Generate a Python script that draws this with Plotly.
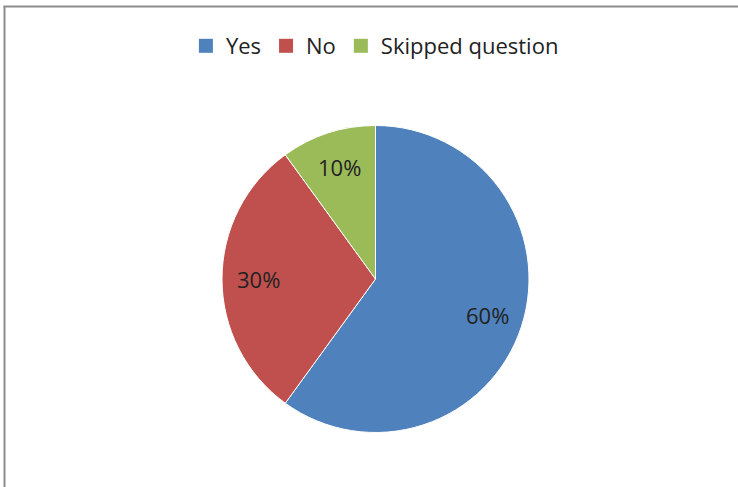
import math
import plotly.graph_objects as go

labels = ["Yes", "No", "Skipped question"]
values = [60, 30, 10]
colors = ["#4F81BD", "#C0504D", "#9BBB59"]

W, H = 738, 487
FONT = "Open Sans, Noto Sans, sans-serif"

# pie geometry (pixels)
CX, CY, R = 375.5, 279.0, 153.5

fig = go.Figure()
fig.add_trace(go.Pie(
    labels=labels,
    values=values,
    sort=False,
    direction="clockwise",
    rotation=0,
    marker=dict(colors=colors, line=dict(color="white", width=1)),
    textinfo="none",
    showlegend=False,
    domain=dict(x=[(CX - R) / W, (CX + R) / W],
                y=[(H - CY - R) / H, (H - CY + R) / H]),
    hoverinfo="label+percent",
))

# legend entries with larger square symbols
for lab, col in zip(labels, colors):
    fig.add_trace(go.Scatter(
        x=[None], y=[None], mode="markers", name=lab,
        marker=dict(symbol="square", size=14, color=col),
        hoverinfo="skip",
    ))

# percentage labels placed at mid-angle of each slice
total = sum(values)
annotations = []
cum = 0
for v in values:
    mid = (cum + v / 2) / total * 2 * math.pi
    cum += v
    px = CX + 0.765 * R * math.sin(mid)
    py = CY - 0.765 * R * math.cos(mid)
    annotations.append(dict(
        x=px / W, y=1 - py / H, xref="paper", yref="paper",
        text=f"{v / total * 100:.0f}%", showarrow=False,
        xanchor="center", yanchor="middle",
        font=dict(family=FONT, size=22, color="#222222"),
    ))

fig.update_layout(
    width=W, height=H,
    margin=dict(l=0, r=0, t=0, b=0),
    paper_bgcolor="white",
    plot_bgcolor="white",
    font=dict(family=FONT, color="#222222"),
    xaxis=dict(visible=False),
    yaxis=dict(visible=False),
    showlegend=True,
    legend=dict(
        orientation="h",
        x=0.508, xanchor="center",
        y=1 - 25 / H, yanchor="top",
        font=dict(family=FONT, size=22, color="#222222"),
        itemwidth=30,
        traceorder="normal",
        bgcolor="rgba(0,0,0,0)",
    ),
    annotations=annotations,
    shapes=[
        dict(type="line", xref="paper", yref="paper",
             x0=4.5 / W, x1=4.5 / W, y0=0, y1=1 - 6 / H,
             line=dict(color="#8c8c8c", width=2)),
        dict(type="line", xref="paper", yref="paper",
             x0=3.5 / W, x1=1, y0=1 - 6.5 / H, y1=1 - 6.5 / H,
             line=dict(color="#8c8c8c", width=2)),
    ],
)

fig.write_html("out.html", config={"displayModeBar": False},
               post_script="document.body.style.margin='0';document.body.style.padding='0';")
